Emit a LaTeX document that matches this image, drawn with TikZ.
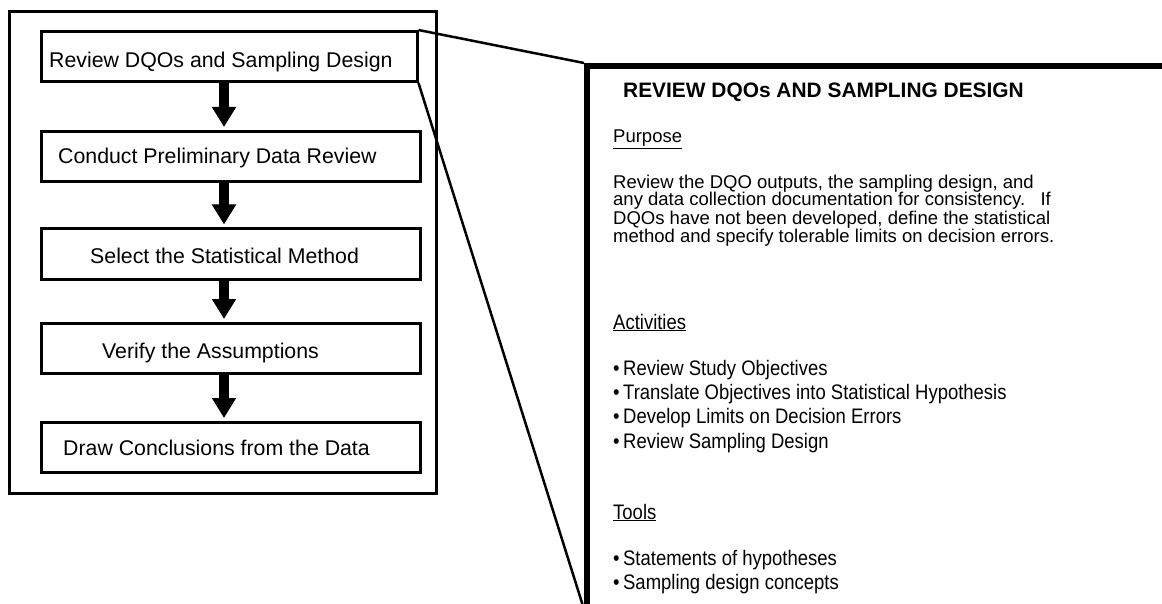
\documentclass[tikz,border=0pt]{standalone}
\usepackage{fontspec}
\setmainfont{Liberation Sans}
\newfontfamily\condfont[FakeStretch=0.88]{Liberation Sans}
\usetikzlibrary{arrows.meta}
\tikzset{
  stepbox/.style={draw, line width=3pt, minimum height=50pt, inner sep=0pt},
  boxtext/.style={anchor=base west, inner sep=0pt, font=\fontsize{21.3}{24}\selectfont},
  bigarrow/.style={line width=10pt, -{Triangle[width=23pt,length=20pt]}, shorten >=3pt},
  zoomline/.style={line width=2.5pt},
  paneltext/.style={anchor=base west, inner sep=0pt, font=\fontsize{18.5}{18}\selectfont},
  listtext/.style={anchor=base west, inner sep=0pt, font=\condfont\fontsize{21}{24}\selectfont},
}
\begin{document}
\begin{tikzpicture}[x=1pt,y=-1pt]
\useasboundingbox (0,0) rectangle (1162,604);
\clip (0,0) rectangle (1162,604);
\fill[white] (0,0) rectangle (1162,604);

% outer frame
\draw[line width=3pt] (9,12) rectangle (436,493);

% step boxes
\node[stepbox, minimum width=376pt] (b1) at (229,56.5) {};
\node[stepbox, minimum width=379pt] (b2) at (230.5,156.5) {};
\node[stepbox, minimum width=379pt] (b3) at (230.5,254) {};
\node[stepbox, minimum width=379pt] (b4) at (230.5,348.5) {};
\node[stepbox, minimum width=379pt] (b5) at (230.5,447.5) {};

\node[boxtext] (t1) at (49,68) {Review DQOs and Sampling Design};
\node[boxtext] (t2) at (58,164) {Conduct Preliminary Data Review};
\node[boxtext] (t3) at (90,263) {Select the Statistical Method};
\node[boxtext] (t4) at (102,358) {Verify the Assumptions};
\node[boxtext] (t5) at (63,455) {Draw Conclusions from the Data};

% arrows
\coordinate (ax) at (224,0);
\draw[bigarrow] (b1.south -| ax) -- (b2.north -| ax);
\draw[bigarrow] (b2.south -| ax) -- (b3.north -| ax);
\draw[bigarrow] (b3.south -| ax) -- (b4.north -| ax);
\draw[bigarrow] (b4.south -| ax) -- (b5.north -| ax);

% detail panel
\coordinate (ptl) at (584,63);
\coordinate (pbl) at (583,606);
\draw[line width=6pt] (1170,66) -- (587,66) -- (587,610);
\draw[zoomline] (b1.north east) -- (ptl);
\draw[zoomline] (b1.south east) -- (pbl);

\node[anchor=base west, inner sep=0pt, font=\bfseries\fontsize{20.9}{24}\selectfont] (title) at (623,98) {REVIEW DQOs AND SAMPLING DESIGN};

\node[paneltext] (hp) at (613,143) {\underline{Purpose}};
\node[paneltext] (p1) at (613,189) {Review the DQO outputs, the sampling design, and};
\node[paneltext] (p2) at (613,206) {any data collection documentation for consistency.\ \ \ If};
\node[paneltext] (p3) at (613,225) {DQOs have not been developed, define the statistical};
\node[paneltext] (p4) at (613,243) {method and specify tolerable limits on decision errors.};

\node[listtext] (ha) at (613,329) {\underline{Activities}};
\node[listtext] (a1) at (613,375) {\textbullet\,Review Study Objectives};
\node[listtext] (a2) at (613,399) {\textbullet\,Translate Objectives into Statistical Hypothesis};
\node[listtext] (a3) at (613,423) {\textbullet\,Develop Limits on Decision Errors};
\node[listtext] (a4) at (613,448) {\textbullet\,Review Sampling Design};

\node[listtext] (ht) at (613,519) {\underline{Tools}};
\node[listtext] (o1) at (613,565) {\textbullet\,Statements of hypotheses};
\node[listtext] (o2) at (613,589) {\textbullet\,Sampling design concepts};
\end{tikzpicture}
\end{document}
